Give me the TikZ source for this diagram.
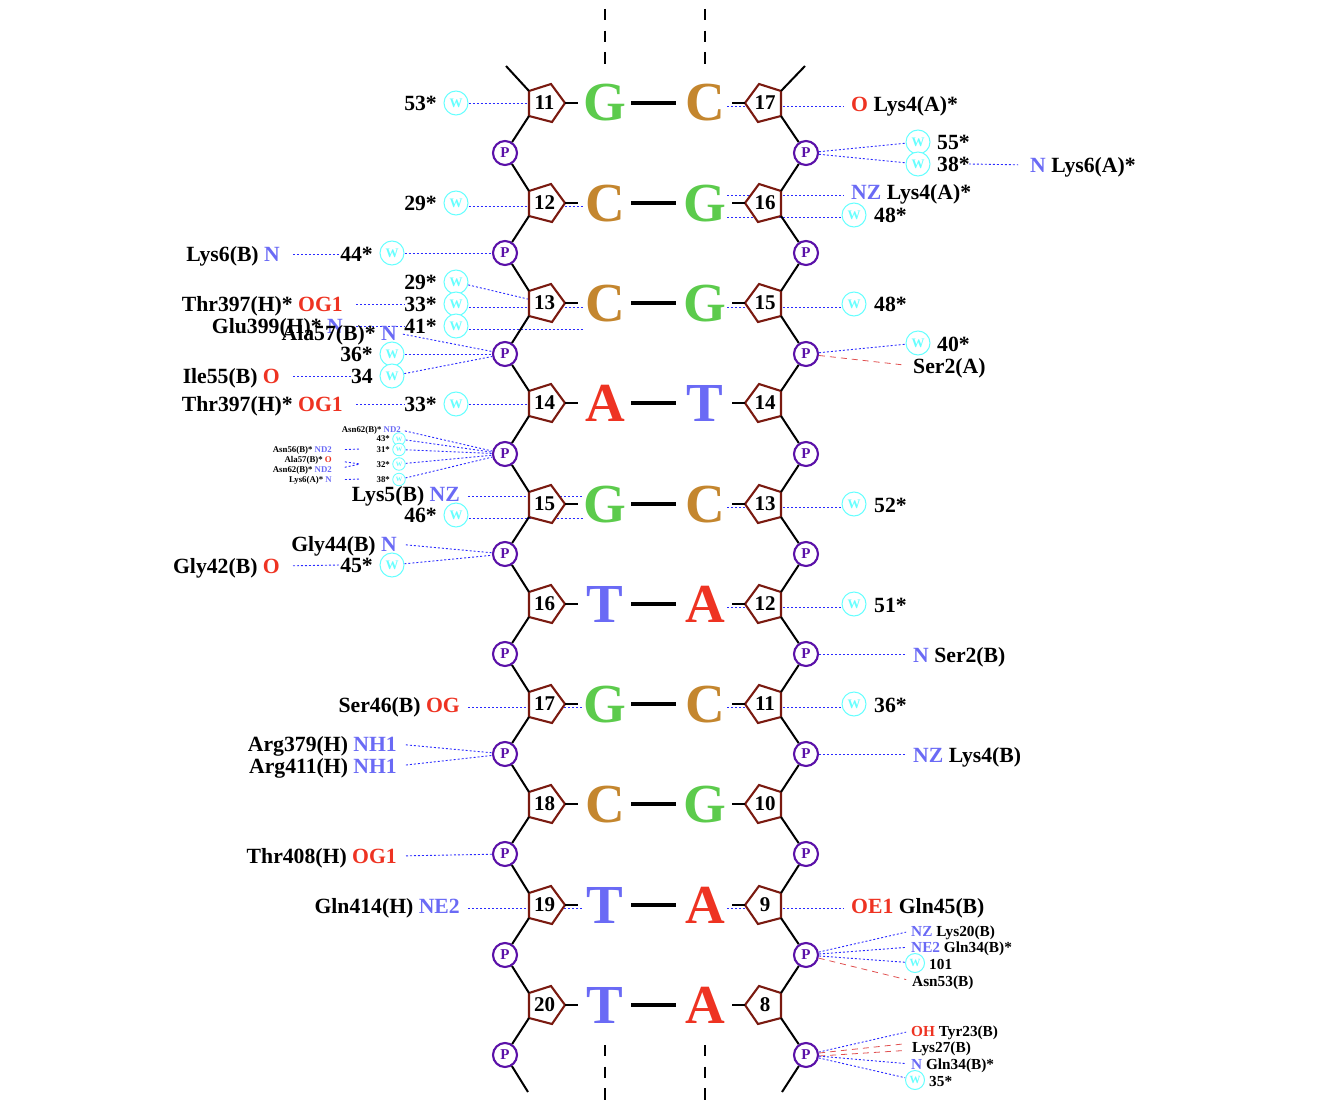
\documentclass[tikz,border=0pt]{standalone}
\usepackage{fontspec}
\setmainfont{Liberation Serif}
\usetikzlibrary{calc}
\pgfdeclarelayer{bondlayer}
\pgfsetlayers{bondlayer,main}
\definecolor{baseG}{HTML}{5CCB4C}
\definecolor{baseC}{HTML}{C4862E}
\definecolor{baseA}{HTML}{EE3322}
\definecolor{baseT}{HTML}{6A6AF5}
\definecolor{wcyan}{HTML}{66FFFF}
\definecolor{ppurple}{HTML}{5A10A8}
\definecolor{sbrown}{HTML}{7A1A10}
\definecolor{hblue}{HTML}{2A2AFF}
\definecolor{nred}{HTML}{E05050}
\newcommand{\blu}[1]{{\color{baseT}#1}}
\newcommand{\rdd}[1]{{\color{baseA}#1}}
\tikzset{
  x=1pt,y=-1pt,
  txt/.style={inner sep=0pt,text depth=0pt},
  big/.style={txt,text height=14.3pt,font=\bfseries\fontsize{21.7}{22}\selectfont},
  mid/.style={txt,text height=10pt,font=\bfseries\fontsize{15.3}{16}\selectfont},
  tiny/.style={txt,text height=5.8pt,font=\bfseries\fontsize{8.8}{9}\selectfont},
  wat/.style={circle,draw=wcyan,line width=1pt,fill=white,minimum size=24pt,inner sep=0pt,text=wcyan,font=\bfseries\fontsize{13}{13}\selectfont},
  watm/.style={wat,minimum size=19pt,font=\bfseries\fontsize{11}{11}\selectfont},
  wats/.style={wat,minimum size=12.5pt,line width=.8pt,font=\bfseries\fontsize{6.5}{6.5}\selectfont},
  phos/.style={circle,draw=ppurple,line width=2.1pt,fill=white,minimum size=24pt,inner sep=0pt,text=ppurple,font=\bfseries\fontsize{15}{15}\selectfont},
  pent/.style={draw=sbrown,line width=2.1pt,fill=white,line join=miter},
  rail/.style={draw=black,line width=2pt},
  stub/.style={draw=black,line width=2pt},
  bar/.style={draw=black,line width=3.2pt},
  chain/.style={draw=black,line width=1.5pt,dash pattern=on 11.3pt off 10.4pt},
  hb/.style={draw=hblue,line width=.9pt,dash pattern=on 2pt off 2pt},
  nb/.style={draw=nred,line width=.8pt,dash pattern=on 6pt off 5pt},
  basel/.style={inner sep=0pt,text depth=0pt,text height=36pt,font=\bfseries\fontsize{55}{55}\selectfont},
  numl/.style={inner sep=0pt,text depth=0pt,text height=13.9pt,font=\bfseries\fontsize{21}{21}\selectfont},
}
\begin{document}
\begin{tikzpicture}
\useasboundingbox (0,0) rectangle (1336,1108);
% nucleotide rows
\foreach \nl/\y/\a/\b/\nr in {11/103/G/C/17,12/203/C/G/16,13/303/C/G/15,14/403/A/T/14,15/504/G/C/13,16/604/T/A/12,17/704/G/C/11,18/804/C/G/10,19/905/T/A/9,20/1005/T/A/8}{
  \draw[pent,shift={(545,\y)}] (-16,-12) coordinate (SL\nl t) -- (6,-19) -- (20,0) coordinate (SL\nl e) -- (7,19) -- (-16,13) coordinate (SL\nl b) -- cycle;
  \node[numl] (SL\nl) at (544.5,\y) {\nl};
  \draw[pent,shift={(765,\y)}] (16,-12) coordinate (SR\nr t) -- (-6,-19) -- (-20,0) coordinate (SR\nr e) -- (-7,19) -- (16,13) coordinate (SR\nr b) -- cycle;
  \node[numl] (SR\nr) at (765,\y) {\nr};
  \node[basel,text=base\a] (BL\nl) at (605,\y) {\a};
  \node[basel,text=base\b] (BR\nr) at (705,\y) {\b};
  \draw[stub] (SL\nl e) -- ($(SL\nl e)+(13,0)$);
  \draw[stub] (SR\nr e) -- ($(SR\nr e)+(-13,0)$);
  \draw[bar] ($(BL\nl)+(26,0)$) -- ($(BR\nr)+(-29,0)$);
}
% phosphates
\foreach \i/\y in {1/153,2/253,3/354,4/454,5/554,6/654,7/754,8/854,9/955,10/1055}{
  \node[phos] (PL\i) at (505,\y) {P};
  \node[phos] (PR\i) at (806,\y) {P};
}
% backbone
\coordinate (TL) at (506,66);
\coordinate (TR) at (805,66);
\coordinate (EL) at (528,1092);
\coordinate (ER) at (782,1092);
\draw[rail] (TL) -- (SL11t);
\draw[rail] (TR) -- (SR17t);
\draw[rail] (PL10) -- (EL);
\draw[rail] (PR10) -- (ER);
\foreach \i/\s/\t in {1/11/12,2/12/13,3/13/14,4/14/15,5/15/16,6/16/17,7/17/18,8/18/19,9/19/20}{
  \draw[rail] (SL\s b) -- (PL\i);
  \draw[rail] (PL\i) -- (SL\t t);
}
\draw[rail] (SL20b) -- (PL10);
\foreach \i/\s/\t in {1/17/16,2/16/15,3/15/14,4/14/13,5/13/12,6/12/11,7/11/10,8/10/9,9/9/8}{
  \draw[rail] (SR\s b) -- (PR\i);
  \draw[rail] (PR\i) -- (SR\t t);
}
\draw[rail] (SR8b) -- (PR10);
% strand continuation
\coordinate (ca) at (605,9); \coordinate (cb) at (605,64);
\coordinate (cc) at (705,9); \coordinate (cd) at (705,64);
\coordinate (ce) at (605,1045); \coordinate (cf) at (605,1101);
\coordinate (cg) at (705,1045); \coordinate (ch) at (705,1101);
\draw[chain] (ca) -- (cb);
\draw[chain] (cc) -- (cd);
\draw[chain] (ce) -- (cf);
\draw[chain] (cg) -- (ch);

% ---- left labels
\node[big,anchor=east] (a53) at (437,103) {53*};
\node[wat] (w53) at (456,103) {W};
\node[big,anchor=east] (a29) at (437,203) {29*};
\node[wat] (w29) at (456,203) {W};
\node[big,anchor=east] (a44l) at (280,254) {Lys6(B) \blu{N}};
\node[big,anchor=east] (a44) at (373,254) {44*};
\node[wat] (w44) at (392,253) {W};
\node[big,anchor=east] (a29b) at (437,282) {29*};
\node[wat] (w29b) at (456,282) {W};
\node[big,anchor=east] (a33l) at (343,304) {Thr397(H)* \rdd{OG1}};
\node[big,anchor=east] (a33) at (437,304) {33*};
\node[wat] (w33) at (456,304) {W};
\node[big,anchor=east] (a41l) at (343,326) {Glu399(H)* \blu{N}};
\node[big,anchor=east] (a41) at (437,326) {41*};
\node[wat] (w41) at (456,326) {W};
\node[big,anchor=east] (a57) at (397,333) {Ala57(B)* \blu{N}};
\node[big,anchor=east] (a36) at (373,354) {36*};
\node[wat] (w36) at (392,354) {W};
\node[big,anchor=east] (a34l) at (280,376) {Ile55(B) \rdd{O}};
\node[big,anchor=east] (a34) at (373,376) {34};
\node[wat] (w34) at (392,376) {W};
\node[big,anchor=east] (a33c) at (343,404) {Thr397(H)* \rdd{OG1}};
\node[big,anchor=east] (a33d) at (437,404) {33*};
\node[wat] (w33d) at (456,404) {W};
% tiny group
\node[tiny,anchor=east] (t62) at (401,430) {Asn62(B)* \blu{ND2}};
\node[tiny,anchor=east] (t43) at (390,439) {43*};
\node[wats] (wt43) at (399,439) {W};
\node[tiny,anchor=east] (t56) at (332,450) {Asn56(B)* \blu{ND2}};
\node[tiny,anchor=east] (t31) at (390,450) {31*};
\node[wats] (wt31) at (399,449.5) {W};
\node[tiny,anchor=east] (t57) at (332,460) {Ala57(B)* \rdd{O}};
\node[tiny,anchor=east] (t32) at (390,465) {32*};
\node[wats] (wt32) at (399,464) {W};
\node[tiny,anchor=east] (t62b) at (332,470) {Asn62(B)* \blu{ND2}};
\node[tiny,anchor=east] (t6) at (332,480) {Lys6(A)* \blu{N}};
\node[tiny,anchor=east] (t38) at (390,480) {38*};
\node[wats] (wt38) at (399,479.5) {W};
\node[big,anchor=east] (a5) at (460,494) {Lys5(B) \blu{NZ}};
\node[big,anchor=east] (a46) at (437,515) {46*};
\node[wat] (w46) at (456,515) {W};
\node[big,anchor=east] (a44g) at (397,544) {Gly44(B) \blu{N}};
\node[big,anchor=east] (a42) at (280,566) {Gly42(B) \rdd{O}};
\node[big,anchor=east] (a45) at (373,565) {45*};
\node[wat] (w45) at (392,565) {W};
\node[big,anchor=east] (a46s) at (460,705) {Ser46(B) \rdd{OG}};
\node[big,anchor=east] (a379) at (397,744) {Arg379(H) \blu{NH1}};
\node[big,anchor=east] (a411) at (397,766) {Arg411(H) \blu{NH1}};
\node[big,anchor=east] (a408) at (397,856) {Thr408(H) \rdd{OG1}};
\node[big,anchor=east] (a414) at (460,906) {Gln414(H) \blu{NE2}};

% ---- right labels
\node[big,anchor=west] (b4a) at (851,104) {\rdd{O} Lys4(A)*};
\node[wat] (w55) at (918,142) {W};
\node[big,anchor=west] (b55) at (937,142) {55*};
\node[wat] (w38) at (918,164) {W};
\node[big,anchor=west] (b38) at (937,164) {38*};
\node[big,anchor=west] (b6a) at (1030,165) {\blu{N} Lys6(A)*};
\node[big,anchor=west] (b4n) at (851,192) {\blu{NZ} Lys4(A)*};
\node[wat] (w48) at (854,215) {W};
\node[big,anchor=west] (b48) at (874,215) {48*};
\node[wat] (w48b) at (854,304) {W};
\node[big,anchor=west] (b48b) at (874,304) {48*};
\node[wat] (w40) at (918,343) {W};
\node[big,anchor=west] (b40) at (937,344) {40*};
\node[big,anchor=west] (bs2a) at (913,366) {Ser2(A)};
\node[wat] (w52) at (854,504) {W};
\node[big,anchor=west] (b52) at (874,505) {52*};
\node[wat] (w51) at (854,604) {W};
\node[big,anchor=west] (b51) at (874,605) {51*};
\node[big,anchor=west] (bs2b) at (913,655) {\blu{N} Ser2(B)};
\node[wat] (w36r) at (854,704) {W};
\node[big,anchor=west] (b36) at (874,705) {36*};
\node[big,anchor=west] (b4b) at (913,755) {\blu{NZ} Lys4(B)};
\node[big,anchor=west] (b45) at (851,906) {\rdd{OE1} Gln45(B)};
\node[mid,anchor=west] (m20) at (911,931) {\blu{NZ} Lys20(B)};
\node[mid,anchor=west] (m34) at (911,947) {\blu{NE2} Gln34(B)*};
\node[watm] (w101) at (915,963) {W};
\node[mid,anchor=west] (m101) at (929,964) {101};
\node[mid,anchor=west] (m53) at (912,981) {Asn53(B)};
\node[mid,anchor=west] (m23) at (911,1031) {\rdd{OH} Tyr23(B)};
\node[mid,anchor=west] (m27) at (912,1047) {Lys27(B)};
\node[mid,anchor=west] (m34b) at (911,1064) {\blu{N} Gln34(B)*};
\node[watm] (w35) at (915,1080) {W};
\node[mid,anchor=west] (m35) at (929,1081) {35*};

% ---- bonds
\begin{pgfonlayer}{bondlayer}
\draw[hb] (w53) -- (SL11t |- w53);
\draw[hb] ($(w29.east)+(0,3.5)$) -- ($(SL12e)+(18,3.5)$);
\draw[hb,shorten <=13pt] (a44l.east) -- (a44.west);
\draw[hb] (w44) -- (PL2);
\draw[hb] (w29b) -- (SL13);
\draw[hb,shorten <=13pt] (a33l.east) -- (a33.west);
\draw[hb] ($(w33.east)+(0,3)$) -- ($(SL13e)+(18,4)$);
\draw[hb,shorten <=13pt] (a41l.east) -- (a41.west);
\draw[hb] ($(w41.east)+(0,3)$) -- ($(SL13e)+(18,26)$);
\draw[hb,shorten <=6pt] (a57.east) -- (PL3);
\draw[hb] (w36) -- (PL3);
\draw[hb] (w34) -- (PL3);
\draw[hb,shorten <=13pt] (a34l.east) -- (a34.west);
\draw[hb,shorten <=13pt] (a33c.east) -- (a33d.west);
\draw[hb] (w33d) -- (SL14t |- w33d);
\draw[hb,shorten <=4pt] (t62.east) -- (PL4);
\draw[hb] (wt43) -- (PL4);
\draw[hb] (wt31) -- (PL4);
\draw[hb] (wt32) -- (PL4);
\draw[hb] (wt38) -- (PL4);
\coordinate (tc1) at (360,449);
\coordinate (tc2) at (360,464);
\coordinate (tc3) at (360,479);
\draw[hb,shorten <=13pt] (t56.east) -- (tc1);
\draw[hb,shorten <=13pt] (t57.east) -- (tc2);
\draw[hb,shorten <=13pt] (t62b.east) -- (tc2);
\draw[hb,shorten <=13pt] (t6.east) -- (tc3);
\draw[hb,shorten <=8pt] ($(a5.east)+(0,2)$) -- ($(SL15e)+(18,-8)$);
\draw[hb] ($(w46.east)+(0,3)$) -- ($(SL15e)+(18,14)$);
\draw[hb,shorten <=9pt] (a44g.east) -- (PL5);
\draw[hb] (w45) -- (PL5);
\draw[hb,shorten <=13pt] (a42.east) -- (a45.west);
\draw[hb,shorten <=8pt] ($(a46s.east)+(0,2)$) -- ($(SL17e)+(18,3)$);
\draw[hb,shorten <=9pt] (a379.east) -- (PL7);
\draw[hb,shorten <=9pt] (a411.east) -- (PL7);
\draw[hb,shorten <=9pt] (a408.east) -- (PL8);
\draw[hb,shorten <=8pt] ($(a414.east)+(0,2)$) -- ($(SL19e)+(18,3)$);
% right
\draw[hb,shorten >=7pt] ($(SR17e)+(-18,3)$) -- ($(b4a.west)+(0,2)$);
\draw[hb] (PR1) -- (w55);
\draw[hb] (PR1) -- (w38);
\draw[hb,shorten <=-1pt,shorten >=12pt] (b38.east) -- (b6a.west);
\draw[hb,shorten >=7pt] ($(SR16e)+(-18,-7.5)$) -- ($(b4n.west)+(0,3.5)$);
\draw[hb] ($(SR16e)+(-18,14.5)$) -- ($(w48.west)+(0,2.5)$);
\draw[hb] ($(SR15e)+(-18,4)$) -- ($(w48b.west)+(0,3)$);
\draw[hb] (PR3) -- (w40);
\draw[nb,shorten >=7pt] (PR3) -- (bs2a.west);
\draw[hb] ($(SR13e)+(-18,3)$) -- ($(w52.west)+(0,3)$);
\draw[hb] ($(SR12e)+(-18,3)$) -- ($(w51.west)+(0,3)$);
\draw[hb,shorten >=8pt] (PR6) -- (bs2b.west |- PR6);
\draw[hb] ($(SR11e)+(-18,3)$) -- ($(w36r.west)+(0,3)$);
\draw[hb,shorten >=8pt] (PR7) -- (b4b.west |- PR7);
\draw[hb,shorten >=7pt] ($(SR9e)+(-18,3)$) -- ($(b45.west)+(0,2)$);
\draw[hb,shorten >=5pt] (PR9) -- (m20.west);
\draw[hb,shorten >=5pt] (PR9) -- (m34.west);
\draw[hb] (PR9) -- (w101);
\draw[nb,shorten >=6pt] (PR9) -- (m53.west);
\draw[hb,shorten >=5pt] (PR10) -- (m23.west);
\draw[nb,shorten >=6pt] ($(PR10.east)+(0,-2)$) -- ($(m27.west)+(0,-4)$);
\draw[nb,shorten >=6pt] ($(PR10.east)+(0,1)$) -- ($(m27.west)+(0,3)$);
\draw[hb,shorten >=5pt] (PR10) -- (m34b.west);
\draw[hb] (PR10) -- (w35);
\end{pgfonlayer}
\end{tikzpicture}
\end{document}
